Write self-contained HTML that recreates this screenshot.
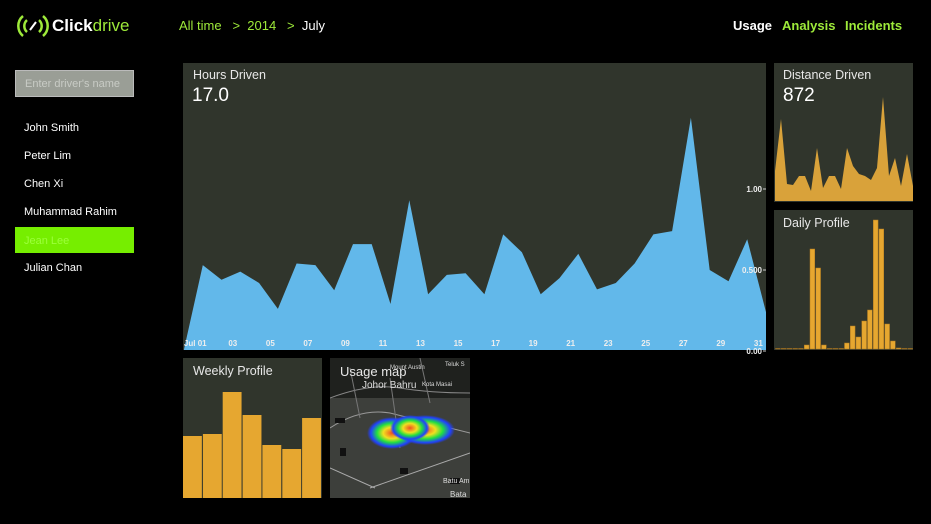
<!DOCTYPE html>
<html><head><meta charset="utf-8"><style>
body{margin:0;width:931px;height:524px;background:#000;font-family:"Liberation Sans",sans-serif;overflow:hidden;position:relative;color:#fff}
.a{position:absolute}
.panel{position:absolute;background:#30352c}
.t{position:absolute;font-size:12.5px;color:#e8e8e8}
.big{position:absolute;font-size:19px;color:#fff}
.drv{position:absolute;left:24px;font-size:11px;color:#fff}
.nav{position:absolute;top:18px;font-size:13px;font-weight:bold}
</style></head><body>
<div class="a" style="left:16px;top:12px;height:28px;width:120px">
<svg class="a" width="34" height="28" viewBox="0 0 34 28" style="left:0;top:0"><g fill="none" stroke="#9eea3a" stroke-width="2.5"><path d="M7 4 A13 13 0 0 0 7 24"/><path d="M27 4 A13 13 0 0 1 27 24"/><path d="M11 8 A8 8 0 0 0 11 20"/><path d="M23 8 A8 8 0 0 1 23 20"/></g><path d="M14 18 L20 10" stroke="#fff" stroke-width="2"/></svg>
<span class="a" style="left:36px;top:4px;font-size:17px;font-weight:bold;color:#fff">Click<span style="color:#9eea3a;font-weight:normal">drive</span></span></div>
<div class="a" style="left:179px;top:18px;font-size:13px;color:#9eea3a;white-space:pre"><span>All time</span>   &gt;  <span>2014</span>   &gt;  <span style="color:#fff">July</span></div>
<div class="nav" style="left:733px;color:#fff">Usage</div>
<div class="nav" style="left:782px;color:#9eea3a">Analysis</div>
<div class="nav" style="left:845px;color:#9eea3a">Incidents</div>
<div class="a" style="left:15px;top:70px;width:119px;height:27px;background:#9a9e96;border:1px solid #bbb;box-sizing:border-box;font-size:11px;color:#c8cbc5;padding:7px 9px">Enter driver's name</div>
<div class="drv" style="top:122px">John Smith</div>
<div class="drv" style="top:150px">Peter Lim</div>
<div class="drv" style="top:178px">Chen Xi</div>
<div class="drv" style="top:206px">Muhammad Rahim</div>
<div class="a" style="left:15px;top:227px;width:119px;height:26px;background:#76ee00;font-size:11px;color:#9cff3a;padding:8px 9px;box-sizing:border-box">Jean Lee</div>
<div class="drv" style="top:262px">Julian Chan</div>

<div class="panel" style="left:183px;top:63px;width:583px;height:287px"></div>
<div class="t" style="left:193px;top:68px">Hours Driven</div>
<div class="big" style="left:192px;top:85px">17.0</div>
<div class="panel" style="left:774px;top:63px;width:139px;height:139px"></div>
<div class="t" style="left:783px;top:68px">Distance Driven</div>
<div class="big" style="left:783px;top:85px">872</div>
<div class="panel" style="left:774px;top:210px;width:139px;height:140px"></div>
<div class="t" style="left:783px;top:216px">Daily Profile</div>
<div class="panel" style="left:183px;top:358px;width:139px;height:140px"></div>
<div class="t" style="left:193px;top:364px">Weekly Profile</div>
<div class="panel" style="left:330px;top:358px;width:140px;height:140px;background:#3d3f3b;overflow:hidden">
<svg width="140" height="140">
<rect x="0" y="0" width="140" height="40" fill="#1f211e"/>
<path d="M0 40 Q40 25 70 30 T140 35" stroke="#888" fill="none"/>
<path d="M0 70 Q30 50 60 55 L140 75" stroke="#999" fill="none"/>
<path d="M40 130 L140 95" stroke="#aaa" fill="none"/>
<path d="M0 110 L45 130" stroke="#aaa" fill="none"/>
<path d="M20 10 L30 60 M90 0 L100 45 M60 20 L70 90" stroke="#777" fill="none"/>
<g fill="#111"><rect x="10" y="90" width="6" height="8"/><rect x="70" y="110" width="8" height="6"/><rect x="120" y="120" width="10" height="6"/><rect x="5" y="60" width="10" height="5"/></g>
<defs><radialGradient id="h"><stop offset="0" stop-color="#f05020"/><stop offset=".35" stop-color="#f0e020"/><stop offset=".6" stop-color="#20e040"/><stop offset=".85" stop-color="#2040ff"/><stop offset="1" stop-color="#2040ff" stop-opacity="0"/></radialGradient></defs>
<ellipse cx="62" cy="75" rx="25" ry="16" fill="url(#h)"/><ellipse cx="95" cy="72" rx="30" ry="15" fill="url(#h)"/><ellipse cx="80" cy="70" rx="20" ry="13" fill="url(#h)"/>
<text x="10" y="18" font-size="13" fill="#e8e8e8" font-family="Liberation Sans">Usage map</text>
<text x="32" y="30" font-size="10" fill="#ddd" font-family="Liberation Sans">Johor Bahru</text>
<text x="92" y="28" font-size="6" fill="#ddd" font-family="Liberation Sans">Kota Masai</text>
<text x="60" y="11" font-size="6" fill="#ddd" font-family="Liberation Sans">Mount Austin</text>
<text x="115" y="8" font-size="6" fill="#ddd" font-family="Liberation Sans">Teluk S</text>
<text x="113" y="125" font-size="7" fill="#ddd" font-family="Liberation Sans">Batu Am</text>
<text x="120" y="139" font-size="8" fill="#ddd" font-family="Liberation Sans">Bata</text>
</svg></div>

<svg class="a" width="931" height="524" style="left:0;top:0;pointer-events:none" id="charts"></svg>
<script>
const hoursValues=[0.01,0.53,0.44,0.49,0.42,0.26,0.54,0.53,0.375,0.66,0.66,0.29,0.93,0.35,0.47,0.48,0.35,0.72,0.61,0.35,0.45,0.6,0.38,0.42,0.54,0.72,0.74,1.44,0.5,0.43,0.69,0.24];
const hoursTicks=["Jul 01","03","05","07","09","11","13","15","17","19","21","23","25","27","29","31"];
const hoursTickDays=[1,3,5,7,9,11,13,15,17,19,21,23,25,27,29,31];
const yTicks=[0,0.5,1.0];
const yTickLabels=["0.00","0.500","1.00"];
const distanceValues=[30,82,17,16,25,25,10,53,13,25,25,12,53,35,27,25,21,33,104,25,43,15,47,15];
const dailyValues=[0.5,0.5,0.5,0.5,0.5,4,100,81,4,0.5,0.5,0.5,6,23,12,28,39,129,120,25,8,1,0.5,0.5];
const weeklyValues=[62,64,106,83,53,49,80];
const NS="http://www.w3.org/2000/svg";
const svg=document.getElementById('charts');
function mk(t,a){const e=document.createElementNS(NS,t);for(const k in a)e.setAttribute(k,a[k]);svg.appendChild(e);return e;}
const hx=i=>184+i*(582/(hoursValues.length-1));
const hy=v=>351-v*162;
let d="M"+hx(0)+" 350";
hoursValues.forEach((v,i)=>{d+=" L"+hx(i).toFixed(1)+" "+hy(v).toFixed(1);});
d+=" L"+hx(hoursValues.length-1)+" 350 Z";
const ha=mk('path',{d:d,fill:'#62b8ea'});


const dayX=dd=>184+(dd-0.4)*18.77;
hoursTicks.forEach((t,i)=>{const e=mk('text',{x:dayX(hoursTickDays[i]),y:346,'font-size':8,'font-weight':'bold',fill:'#eee','text-anchor':'middle','font-family':'Liberation Sans'});e.textContent=t;

});
yTicks.forEach((v,i)=>{const e=mk('text',{x:762,y:hy(v)+3,'font-size':8,'font-weight':'bold',fill:'#eee','text-anchor':'end','font-family':'Liberation Sans'});e.textContent=yTickLabels[i];


mk('line',{x1:763,x2:766,y1:hy(v),y2:hy(v),stroke:'#ccc'});});
const dx=i=>775+i*(138/(distanceValues.length-1));
const dy=v=>201-v;
let dd2="M775 201";
distanceValues.forEach((v,i)=>{dd2+=" L"+dx(i).toFixed(1)+" "+dy(v).toFixed(1);});
dd2+=" L913 201 Z";
const da=mk('path',{d:dd2,fill:'#d9a23a'});


const bw=138/dailyValues.length;
dailyValues.forEach((v,i)=>{const e=mk('rect',{x:(775+i*bw+0.5).toFixed(1),y:349-v,width:bw-1,height:v,fill:'#e6a730',stroke:'#b07a20','stroke-width':0.5});

});
const ww=139/weeklyValues.length;
weeklyValues.forEach((v,i)=>{const e=mk('rect',{x:(183+i*ww).toFixed(1),y:498-v,width:ww-1,height:v,fill:'#e6a730'});

});
</script>
</body></html>
